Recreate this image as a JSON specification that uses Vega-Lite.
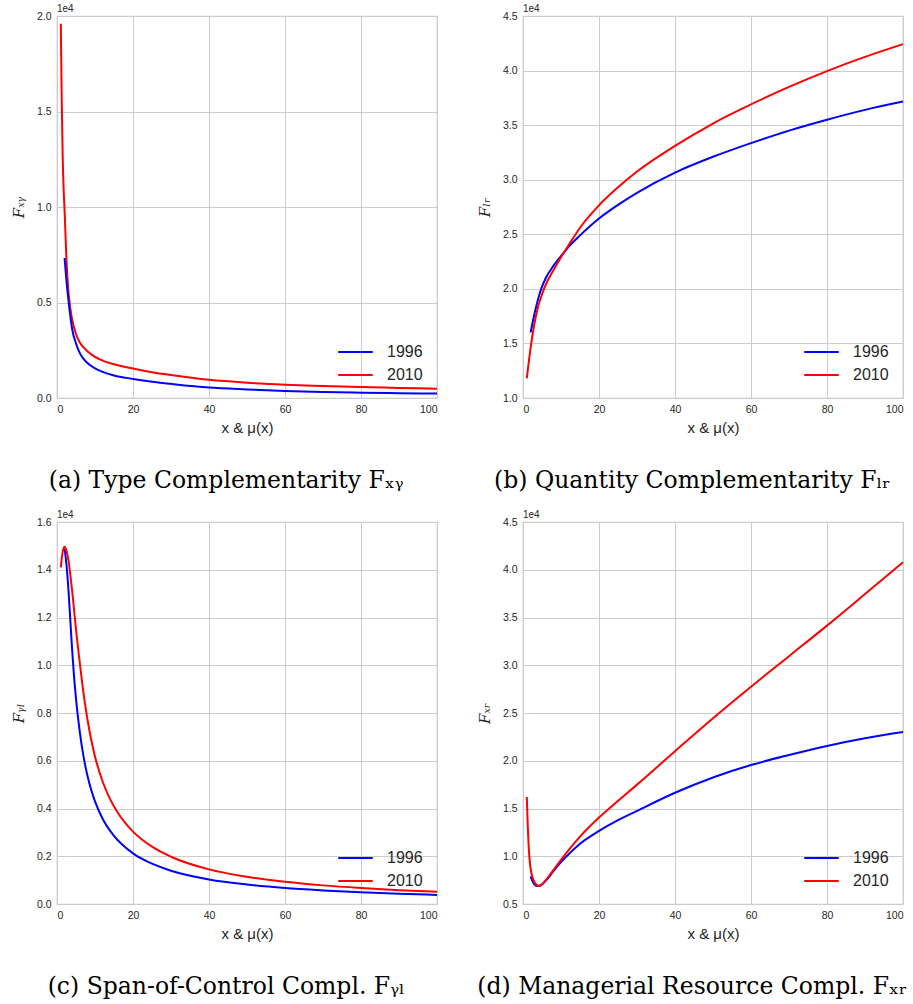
{
  "$schema": "https://vega.github.io/schema/vega-lite/v6.json",
  "padding": {"left": 10, "top": 3, "right": 5, "bottom": 5},
  "background": "white",
  "datasets": {
    "a": [
      {"x":1,"year":"2010","v":19600},{"x":1.25,"year":"2010","v":15500},{"x":1.5,"year":"2010","v":12600},{"x":1.75,"year":"2010","v":10900},{"x":2,"year":"2010","v":9800},{"x":2.5,"year":"2010","v":7200},{"x":3,"year":"2010","v":5600},{"x":3.5,"year":"2010","v":4700},{"x":4,"year":"2010","v":4100},{"x":5,"year":"2010","v":3350},{"x":6,"year":"2010","v":2900},{"x":7,"year":"2010","v":2650},{"x":8,"year":"2010","v":2450},{"x":10,"year":"2010","v":2150},{"x":12,"year":"2010","v":1960},{"x":15,"year":"2010","v":1770},{"x":20,"year":"2010","v":1540},{"x":25,"year":"2010","v":1350},{"x":30,"year":"2010","v":1200},{"x":40,"year":"2010","v":950},{"x":50,"year":"2010","v":800},{"x":60,"year":"2010","v":700},{"x":70,"year":"2010","v":630},{"x":80,"year":"2010","v":570},{"x":90,"year":"2010","v":530},{"x":100,"year":"2010","v":490},
      {"x":2,"year":"1996","v":7330},{"x":2.5,"year":"1996","v":6100},{"x":3,"year":"1996","v":5150},{"x":3.5,"year":"1996","v":4300},{"x":4,"year":"1996","v":3600},{"x":5,"year":"1996","v":2850},{"x":6,"year":"1996","v":2350},{"x":7,"year":"1996","v":2050},{"x":8,"year":"1996","v":1830},{"x":10,"year":"1996","v":1550},{"x":12,"year":"1996","v":1370},{"x":15,"year":"1996","v":1180},{"x":20,"year":"1996","v":1000},{"x":25,"year":"1996","v":850},{"x":30,"year":"1996","v":740},{"x":40,"year":"1996","v":550},{"x":50,"year":"1996","v":450},{"x":60,"year":"1996","v":370},{"x":70,"year":"1996","v":320},{"x":80,"year":"1996","v":280},{"x":90,"year":"1996","v":250},{"x":100,"year":"1996","v":230}
    ],
    "b": [
      {"x":2,"year":"1996","v":16000},{"x":3,"year":"1996","v":17700},{"x":4,"year":"1996","v":19100},{"x":5,"year":"1996","v":20200},{"x":6,"year":"1996","v":21000},{"x":8,"year":"1996","v":22100},{"x":10,"year":"1996","v":23000},{"x":12,"year":"1996","v":23850},{"x":15,"year":"1996","v":24900},{"x":20,"year":"1996","v":26450},{"x":25,"year":"1996","v":27700},{"x":30,"year":"1996","v":28800},{"x":40,"year":"1996","v":30650},{"x":50,"year":"1996","v":32100},{"x":60,"year":"1996","v":33350},{"x":70,"year":"1996","v":34500},{"x":80,"year":"1996","v":35500},{"x":90,"year":"1996","v":36400},{"x":100,"year":"1996","v":37160},
      {"x":1,"year":"2010","v":11800},{"x":2,"year":"2010","v":14600},{"x":3,"year":"2010","v":16800},{"x":4,"year":"2010","v":18400},{"x":5,"year":"2010","v":19500},{"x":6,"year":"2010","v":20400},{"x":8,"year":"2010","v":21700},{"x":10,"year":"2010","v":22900},{"x":12,"year":"2010","v":24000},{"x":15,"year":"2010","v":25600},{"x":20,"year":"2010","v":27650},{"x":25,"year":"2010","v":29300},{"x":30,"year":"2010","v":30750},{"x":40,"year":"2010","v":33100},{"x":50,"year":"2010","v":35150},{"x":60,"year":"2010","v":36900},{"x":70,"year":"2010","v":38500},{"x":80,"year":"2010","v":39950},{"x":90,"year":"2010","v":41250},{"x":100,"year":"2010","v":42420}
    ],
    "c": [
      {"x":2,"year":"1996","v":14900},{"x":2.5,"year":"1996","v":14200},{"x":3,"year":"1996","v":13200},{"x":3.5,"year":"1996","v":11900},{"x":4,"year":"1996","v":10600},{"x":4.5,"year":"1996","v":9500},{"x":5,"year":"1996","v":8600},{"x":6,"year":"1996","v":7200},{"x":7,"year":"1996","v":6160},{"x":8,"year":"1996","v":5380},{"x":9,"year":"1996","v":4780},{"x":10,"year":"1996","v":4300},{"x":12,"year":"1996","v":3570},{"x":15,"year":"1996","v":2850},{"x":20,"year":"1996","v":2120},{"x":25,"year":"1996","v":1690},{"x":30,"year":"1996","v":1395},{"x":40,"year":"1996","v":1030},{"x":50,"year":"1996","v":815},{"x":60,"year":"1996","v":670},{"x":70,"year":"1996","v":570},{"x":80,"year":"1996","v":490},{"x":90,"year":"1996","v":430},{"x":100,"year":"1996","v":380},
      {"x":1,"year":"2010","v":14100},{"x":1.5,"year":"2010","v":14750},{"x":2,"year":"2010","v":14960},{"x":2.5,"year":"2010","v":14800},{"x":3,"year":"2010","v":14400},{"x":3.5,"year":"2010","v":13800},{"x":4,"year":"2010","v":13100},{"x":4.5,"year":"2010","v":12300},{"x":5,"year":"2010","v":11500},{"x":6,"year":"2010","v":10100},{"x":7,"year":"2010","v":8800},{"x":8,"year":"2010","v":7750},{"x":9,"year":"2010","v":6880},{"x":10,"year":"2010","v":6180},{"x":12,"year":"2010","v":5130},{"x":14,"year":"2010","v":4380},{"x":16,"year":"2010","v":3820},{"x":20,"year":"2010","v":3030},{"x":25,"year":"2010","v":2400},{"x":30,"year":"2010","v":1980},{"x":40,"year":"2010","v":1450},{"x":50,"year":"2010","v":1140},{"x":60,"year":"2010","v":930},{"x":70,"year":"2010","v":780},{"x":80,"year":"2010","v":670},{"x":90,"year":"2010","v":580},{"x":100,"year":"2010","v":510}
    ],
    "d": [
      {"x":2,"year":"1996","v":7900},{"x":2.5,"year":"1996","v":7400},{"x":3,"year":"1996","v":7050},{"x":3.5,"year":"1996","v":6900},{"x":4,"year":"1996","v":6880},{"x":5,"year":"1996","v":7050},{"x":6,"year":"1996","v":7450},{"x":7,"year":"1996","v":7900},{"x":8,"year":"1996","v":8450},{"x":10,"year":"1996","v":9400},{"x":12,"year":"1996","v":10200},{"x":15,"year":"1996","v":11300},{"x":20,"year":"1996","v":12650},{"x":25,"year":"1996","v":13780},{"x":30,"year":"1996","v":14750},{"x":40,"year":"1996","v":16650},{"x":50,"year":"1996","v":18250},{"x":60,"year":"1996","v":19550},{"x":70,"year":"1996","v":20600},{"x":80,"year":"1996","v":21550},{"x":90,"year":"1996","v":22350},{"x":100,"year":"1996","v":23000},
      {"x":1,"year":"2010","v":16200},{"x":1.25,"year":"2010","v":13200},{"x":1.5,"year":"2010","v":11000},{"x":1.75,"year":"2010","v":9600},{"x":2,"year":"2010","v":8700},{"x":2.5,"year":"2010","v":7800},{"x":3,"year":"2010","v":7300},{"x":3.5,"year":"2010","v":7050},{"x":4,"year":"2010","v":6900},{"x":4.5,"year":"2010","v":6900},{"x":5,"year":"2010","v":7050},{"x":6,"year":"2010","v":7500},{"x":7,"year":"2010","v":8000},{"x":8,"year":"2010","v":8550},{"x":10,"year":"2010","v":9620},{"x":12,"year":"2010","v":10650},{"x":15,"year":"2010","v":12050},{"x":20,"year":"2010","v":14050},{"x":25,"year":"2010","v":15800},{"x":30,"year":"2010","v":17500},{"x":40,"year":"2010","v":21000},{"x":50,"year":"2010","v":24450},{"x":60,"year":"2010","v":27750},{"x":70,"year":"2010","v":30950},{"x":80,"year":"2010","v":34150},{"x":90,"year":"2010","v":37450},{"x":100,"year":"2010","v":40780}
    ]
  },
  "vconcat": [
    {
      "hconcat": [
        {
          "title": {"text": "(a) Type Complementarity Fₓᵧ", "orient": "bottom", "anchor": "middle", "frame": "bounds", "font": "DejaVu Serif", "fontSize": 23.5, "fontWeight": "normal", "color": "#000000", "offset": 33},
          "vconcat": [{
            "width": 380, "height": 382,
            "title": {"text": "1e4", "anchor": "start", "frame": "group", "font": "Liberation Sans", "fontSize": 10, "fontWeight": "normal", "color": "#262626", "offset": -3},
            "data": {"name": "a"},
            "mark": {"type": "line", "strokeWidth": 2, "interpolate": "monotone"},
            "encoding": {
              "x": {"field": "x", "type": "quantitative", "scale": {"domain": [0, 100]}, "axis": {"values": [0, 20, 40, 60, 80, 100], "title": "x & μ(x)"}},
              "y": {"field": "v", "type": "quantitative", "scale": {"domain": [0, 20000]}, "axis": {"values": [0, 5000, 10000, 15000, 20000], "labelExpr": "format(datum.value / 10000, '.1f')", "title": "Fₓᵧ"}},
              "color": {"field": "year", "type": "nominal", "scale": {"domain": ["1996", "2010"], "range": ["#0000ff", "#ff0000"]}, "legend": {"title": null, "orient": "none", "legendX": 286, "legendY": 323.5}}
            }
          }],
          "resolve": {"scale": {"color": "independent"}, "legend": {"color": "independent"}}
        },
        {
          "title": {"text": "(b) Quantity Complementarity Fₗᵣ", "orient": "bottom", "anchor": "middle", "frame": "bounds", "font": "DejaVu Serif", "fontSize": 23.5, "fontWeight": "normal", "color": "#000000", "offset": 33},
          "vconcat": [{
            "width": 380, "height": 382,
            "title": {"text": "1e4", "anchor": "start", "frame": "group", "font": "Liberation Sans", "fontSize": 10, "fontWeight": "normal", "color": "#262626", "offset": -3},
            "data": {"name": "b"},
            "mark": {"type": "line", "strokeWidth": 2, "interpolate": "monotone"},
            "encoding": {
              "x": {"field": "x", "type": "quantitative", "scale": {"domain": [0, 100]}, "axis": {"values": [0, 20, 40, 60, 80, 100], "title": "x & μ(x)"}},
              "y": {"field": "v", "type": "quantitative", "scale": {"domain": [10000, 45000]}, "axis": {"values": [10000, 15000, 20000, 25000, 30000, 35000, 40000, 45000], "labelExpr": "format(datum.value / 10000, '.1f')", "title": "Fₗᵣ"}},
              "color": {"field": "year", "type": "nominal", "scale": {"domain": ["1996", "2010"], "range": ["#0000ff", "#ff0000"]}, "legend": {"title": null, "orient": "none", "legendX": 286, "legendY": 323.5}}
            }
          }],
          "resolve": {"scale": {"color": "independent"}, "legend": {"color": "independent"}}
        }
      ],
      "spacing": 34,
      "resolve": {"scale": {"color": "independent"}, "legend": {"color": "independent"}}
    },
    {
      "hconcat": [
        {
          "title": {"text": "(c) Span-of-Control Compl. Fᵧₗ", "orient": "bottom", "anchor": "middle", "frame": "bounds", "font": "DejaVu Serif", "fontSize": 23.5, "fontWeight": "normal", "color": "#000000", "offset": 33},
          "vconcat": [{
            "width": 380, "height": 382,
            "title": {"text": "1e4", "anchor": "start", "frame": "group", "font": "Liberation Sans", "fontSize": 10, "fontWeight": "normal", "color": "#262626", "offset": -3},
            "data": {"name": "c"},
            "mark": {"type": "line", "strokeWidth": 2, "interpolate": "monotone"},
            "encoding": {
              "x": {"field": "x", "type": "quantitative", "scale": {"domain": [0, 100]}, "axis": {"values": [0, 20, 40, 60, 80, 100], "title": "x & μ(x)"}},
              "y": {"field": "v", "type": "quantitative", "scale": {"domain": [0, 16000]}, "axis": {"values": [0, 2000, 4000, 6000, 8000, 10000, 12000, 14000, 16000], "labelExpr": "format(datum.value / 10000, '.1f')", "title": "Fᵧₗ"}},
              "color": {"field": "year", "type": "nominal", "scale": {"domain": ["1996", "2010"], "range": ["#0000ff", "#ff0000"]}, "legend": {"title": null, "orient": "none", "legendX": 286, "legendY": 323.5}}
            }
          }],
          "resolve": {"scale": {"color": "independent"}, "legend": {"color": "independent"}}
        },
        {
          "title": {"text": "(d) Managerial Resource Compl. Fₓᵣ", "orient": "bottom", "anchor": "middle", "frame": "bounds", "font": "DejaVu Serif", "fontSize": 23.5, "fontWeight": "normal", "color": "#000000", "offset": 33},
          "vconcat": [{
            "width": 380, "height": 382,
            "title": {"text": "1e4", "anchor": "start", "frame": "group", "font": "Liberation Sans", "fontSize": 10, "fontWeight": "normal", "color": "#262626", "offset": -3},
            "data": {"name": "d"},
            "mark": {"type": "line", "strokeWidth": 2, "interpolate": "monotone"},
            "encoding": {
              "x": {"field": "x", "type": "quantitative", "scale": {"domain": [0, 100]}, "axis": {"values": [0, 20, 40, 60, 80, 100], "title": "x & μ(x)"}},
              "y": {"field": "v", "type": "quantitative", "scale": {"domain": [5000, 45000]}, "axis": {"values": [5000, 10000, 15000, 20000, 25000, 30000, 35000, 40000, 45000], "labelExpr": "format(datum.value / 10000, '.1f')", "title": "Fₓᵣ"}},
              "color": {"field": "year", "type": "nominal", "scale": {"domain": ["1996", "2010"], "range": ["#0000ff", "#ff0000"]}, "legend": {"title": null, "orient": "none", "legendX": 286, "legendY": 323.5}}
            }
          }],
          "resolve": {"scale": {"color": "independent"}, "legend": {"color": "independent"}}
        }
      ],
      "spacing": 34,
      "resolve": {"scale": {"color": "independent"}, "legend": {"color": "independent"}}
    }
  ],
  "spacing": 16,
  "resolve": {"scale": {"color": "independent"}, "legend": {"color": "independent"}},
  "config": {
    "font": "Liberation Sans",
    "view": {"stroke": "#cccccc", "strokeWidth": 1.25},
    "axis": {"domain": false, "ticks": false, "grid": true, "gridColor": "#cccccc", "gridWidth": 1, "labelFont": "Liberation Sans", "labelFontSize": 10.5, "labelColor": "#262626", "titleFontWeight": "normal", "titleColor": "#262626"},
    "axisX": {"labelPadding": 6, "titleFont": "Liberation Sans", "titleFontSize": 15, "titlePadding": 6},
    "axisY": {"labelPadding": 6, "titleFont": "DejaVu Serif", "titleFontStyle": "italic", "titleFontSize": 15, "titlePadding": 10},
    "legend": {"symbolType": "M-1.5,0H1.5", "symbolSize": 529, "symbolStrokeWidth": 2, "labelFont": "Liberation Sans", "labelFontSize": 16, "labelColor": "#262626", "labelOffset": 19, "rowPadding": 2, "padding": 0}
  }
}
